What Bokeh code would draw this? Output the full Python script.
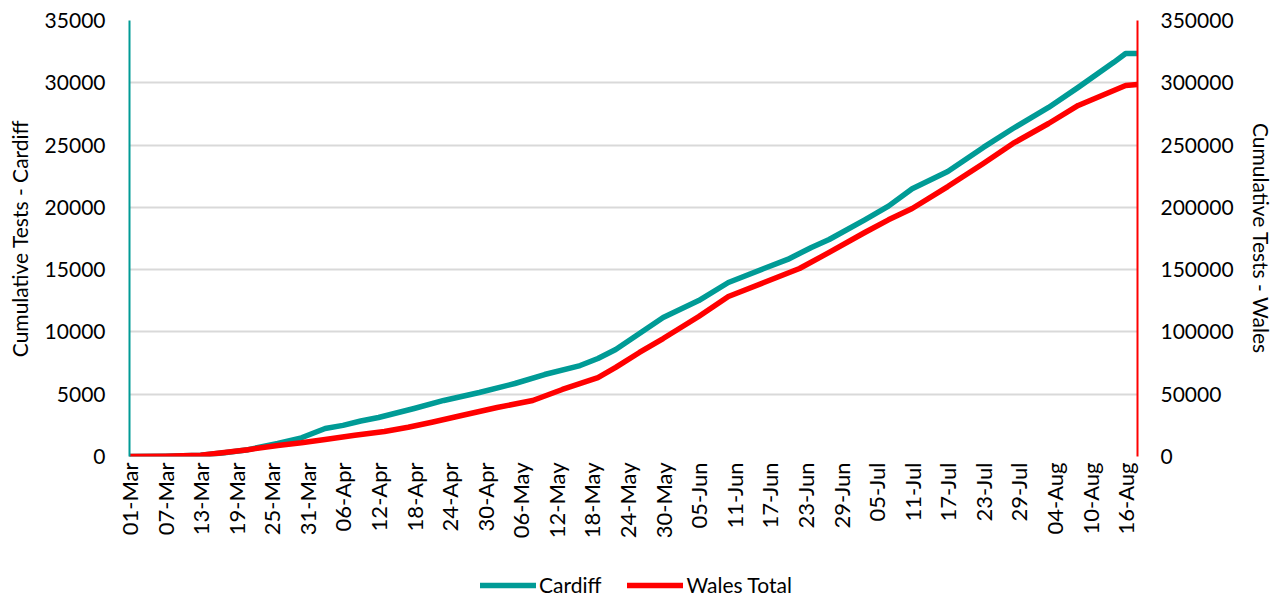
import pandas as pd
from bokeh.plotting import figure
from bokeh.layouts import column
from bokeh.models import (Range1d, LinearAxis, FixedTicker, DatetimeTickFormatter,
                          Legend, LegendItem, BasicTickFormatter)
from bokeh.embed import file_html
from bokeh.resources import INLINE
import math

start = pd.Timestamp("2020-03-01")

# Day offsets from 01-Mar-2020 and cumulative tests
cardiff_days = [0, 6, 12, 16, 20, 25, 29, 33, 36, 39, 42, 48, 53, 59, 65, 70, 76, 79, 82, 86,
                90, 96, 101, 107, 111, 115, 118, 124, 128, 132, 138, 144, 149, 155, 160, 166, 168, 170]
cardiff_tests = [0, 20, 100, 300, 550, 1040, 1500, 2250, 2500, 2850, 3130, 3850, 4500, 5140, 5860,
                 6580, 7300, 7870, 8590, 9870, 11160, 12520, 13970, 15090, 15820, 16780, 17420,
                 19000, 20100, 21500, 22880, 24810, 26330, 28020, 29630, 31640, 32350, 32350]

wales_days = [0, 6, 12, 16, 20, 25, 29, 33, 38, 43, 47, 51, 56, 62, 68, 73, 79, 82, 86, 90,
              96, 101, 107, 113, 118, 124, 128, 132, 138, 144, 149, 155, 160, 166, 168, 170]
wales_tests = [0, 300, 1000, 3200, 5500, 8830, 11000, 13650, 17000, 20070, 23500, 27500, 32900,
               39300, 44950, 53800, 63400, 71500, 83500, 94700, 112400, 128400, 139700, 150900,
               163800, 179800, 190000, 199100, 216700, 235200, 251300, 267300, 281800, 293800,
               297800, 298600]

tick_days = list(range(0, 169, 6))

cardiff_x = [start + pd.Timedelta(days=d) for d in cardiff_days]
wales_x = [start + pd.Timedelta(days=d) for d in wales_days]
tick_ms = [(start + pd.Timedelta(days=d)).timestamp() * 1000 for d in tick_days]

TEAL = "#009B96"
RED = "#FF0000"
FONT = "Lato"
FS = "21px"

p = figure(width=1281, height=555, x_axis_type="datetime",
           x_range=Range1d(start, start + pd.Timedelta(days=170)),
           y_range=Range1d(0, 35000),
           output_backend="svg", toolbar_location=None,
           min_border_left=129, min_border_right=144, min_border_top=20, min_border_bottom=99)
p.outline_line_color = None
p.background_fill_color = "white"

p.extra_y_ranges = {"wales": Range1d(0, 350000)}

r1 = p.line(cardiff_x, cardiff_tests, line_color=TEAL, line_width=5.5, line_join="round", line_cap="round")
r2 = p.line(wales_x, wales_tests, line_color=RED, line_width=5.5, line_join="round", line_cap="round",
            y_range_name="wales")

# x axis
xa = p.xaxis[0]
xa.ticker = FixedTicker(ticks=tick_ms)
fmt = "%d-%b"
xa.formatter = DatetimeTickFormatter(days=fmt, months=fmt, years=fmt, hours=fmt, minutes=fmt,
                                     seconds=fmt, milliseconds=fmt, microseconds=fmt, hourmin=fmt,
                                     minsec=fmt)
xa.major_label_orientation = math.pi / 2
xa.major_label_text_font = FONT
xa.major_label_text_font_size = "22px"
xa.major_label_text_color = "black"
xa.axis_line_color = None
xa.major_tick_line_color = None
xa.minor_tick_line_color = None
xa.major_tick_out = 0
xa.major_tick_in = 0
xa.minor_tick_out = 0
xa.major_label_standoff = 6
p.xgrid.grid_line_color = None

# left axis
ya = p.yaxis[0]
ya.ticker = FixedTicker(ticks=list(range(0, 35001, 5000)))
ya.formatter = BasicTickFormatter(use_scientific=False)
ya.axis_line_color = TEAL
ya.axis_line_width = 2
ya.major_tick_line_color = None
ya.minor_tick_line_color = None
ya.major_tick_out = 0
ya.major_tick_in = 0
ya.minor_tick_out = 0
ya.major_label_text_font = FONT
ya.major_label_text_font_size = FS
ya.major_label_text_color = "black"
ya.major_label_standoff = 24
ya.axis_label = "Cumulative Tests - Cardiff"
ya.axis_label_text_font = FONT
ya.axis_label_text_font_size = FS
ya.axis_label_text_font_style = "normal"
ya.axis_label_text_color = "black"
ya.axis_label_standoff = 10

p.ygrid.ticker = FixedTicker(ticks=list(range(0, 35001, 5000)))
p.ygrid.grid_line_color = "#D9D9D9"
p.ygrid.grid_line_width = 2

# right axis
ra = LinearAxis(y_range_name="wales")
ra.ticker = FixedTicker(ticks=list(range(0, 350001, 50000)))
ra.formatter = BasicTickFormatter(use_scientific=False)
ra.axis_line_color = RED
ra.axis_line_width = 2
ra.major_tick_line_color = None
ra.minor_tick_line_color = None
ra.major_tick_out = 0
ra.major_tick_in = 0
ra.minor_tick_out = 0
ra.major_label_text_font = FONT
ra.major_label_text_font_size = FS
ra.major_label_text_color = "black"
ra.major_label_standoff = 23
ra.axis_label = "Cumulative Tests - Wales"
ra.axis_label_text_font = FONT
ra.axis_label_text_font_size = FS
ra.axis_label_text_font_style = "normal"
ra.axis_label_text_color = "black"
ra.axis_label_standoff = 12
p.add_layout(ra, "right")

# legend in its own strip below the chart (series drawn out of view, only the key shows)
lg = figure(width=1281, height=42, x_range=Range1d(0, 1), y_range=Range1d(0, 1),
            output_backend="svg", toolbar_location=None,
            min_border_left=0, min_border_right=0, min_border_top=0, min_border_bottom=0)
lg.axis.visible = False
lg.grid.visible = False
lg.outline_line_color = None
l1 = lg.line(cardiff_x, cardiff_tests, line_color=TEAL, line_width=5.5, line_cap="round")
l2 = lg.line(wales_x, wales_tests, line_color=RED, line_width=5.5, line_cap="round")
legend = Legend(items=[LegendItem(label="Cardiff", renderers=[l1]),
                       LegendItem(label="Wales Total", renderers=[l2])],
                orientation="horizontal", location=(351, 0))
legend.border_line_color = None
legend.background_fill_alpha = 0
legend.label_text_font = FONT
legend.label_text_font_size = FS
legend.label_text_color = "black"
legend.glyph_width = 56
legend.glyph_height = 20
legend.label_standoff = 3
legend.spacing = 26
legend.padding = 0
legend.margin = 0
lg.add_layout(legend)

layout = column(p, lg, spacing=0)
open("out.html", "w").write(file_html(layout, INLINE))
